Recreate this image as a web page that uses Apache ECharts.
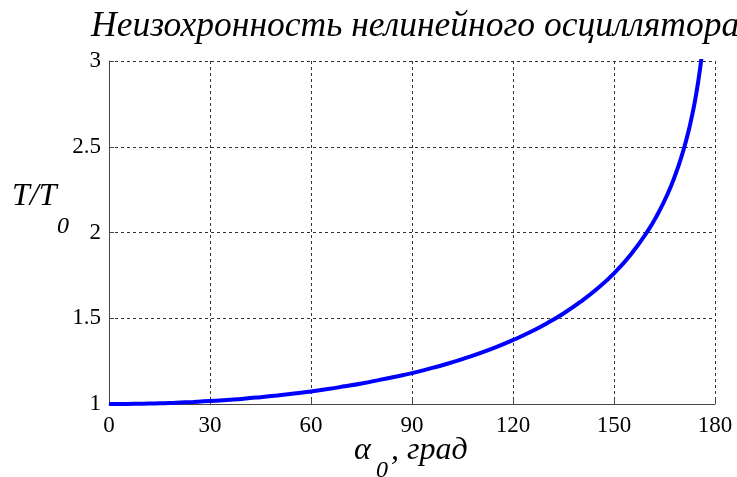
<!DOCTYPE html>
<html>
<head>
<meta charset="utf-8">
<script src="https://cdn.jsdelivr.net/npm/echarts@6/dist/echarts.min.js"></script>
<style>
html,body{margin:0;padding:0;background:#fff;}
#chart{width:737px;height:477px;}
</style>
</head>
<body>
<div id="chart"></div>
<script>
// amplitude, degrees
const alphaDeg = [0,5,10,15,20,25,30,35,40,45,50,55,60,65,70,75,80,85,90,95,100,105,110,115,120,125,130,135,140,145,150,155,160,163,166,168,170,172,173,174,175,176];
// period ratio T/T0
const periodRatio = [1.000,1.000,1.002,1.004,1.008,1.012,1.017,1.024,1.031,1.040,1.050,1.061,1.073,1.087,1.103,1.120,1.139,1.159,1.180,1.205,1.232,1.262,1.295,1.332,1.373,1.418,1.470,1.528,1.595,1.672,1.762,1.872,2.008,2.108,2.228,2.325,2.439,2.580,2.665,2.762,2.878,3.019];
const xTicks = [0,30,60,90,120,150,180];
const yTicks = [1,1.5,2,2.5,3];
const titleText = 'Неизохронность нелинейного осциллятора';
const xName = ['α','0',', град'];
const yName = ['T/T','0'];

const serif = '"Liberation Serif","Times New Roman",serif';
const it = (size)=>({fontFamily:serif,fontStyle:'italic',fontSize:size,fill:'#000'});
const chart = echarts.init(document.getElementById('chart'));
chart.setOption({
  animation:false,
  backgroundColor:'#fff',
  title:{
    text:titleText,
    left:86, top:4,
    textStyle:{fontFamily:serif,fontStyle:'italic',fontWeight:'normal',fontSize:35.5,color:'#000'}
  },
  grid:{left:109,top:61,width:606,height:343,containLabel:false,outerBoundsMode:'none'},
  xAxis:{
    type:'value',min:xTicks[0],max:xTicks[xTicks.length-1],interval:30,
    axisLine:{show:true,lineStyle:{color:'#444',width:1}},
    axisTick:{show:true,inside:true,length:5,lineStyle:{color:'#444'}},
    axisLabel:{fontFamily:serif,fontSize:23,color:'#000',margin:10},
    splitLine:{show:true,lineStyle:{color:'#333',type:[3,3],width:1}}
  },
  yAxis:{
    type:'value',min:yTicks[0],max:yTicks[yTicks.length-1],interval:0.5,
    axisLine:{show:true,lineStyle:{color:'#444',width:1}},
    axisTick:{show:true,inside:true,length:5,lineStyle:{color:'#444'}},
    axisLabel:{fontFamily:serif,fontSize:23,color:'#000',margin:8},
    splitLine:{show:true,lineStyle:{color:'#333',type:[3,3],width:1}}
  },
  graphic:[
    {type:'text',x:12,y:197,style:Object.assign(it(32),{text:yName[0],verticalAlign:'middle'})},
    {type:'text',x:57,y:227,style:Object.assign(it(24),{text:yName[1],verticalAlign:'middle'})},
    {type:'text',x:354,y:451,style:Object.assign(it(32),{text:xName[0],verticalAlign:'middle'})},
    {type:'text',x:376,y:471,style:Object.assign(it(24),{text:xName[1],verticalAlign:'middle'})},
    {type:'text',x:391,y:451,style:Object.assign(it(32),{text:xName[2],verticalAlign:'middle'})}
  ],
  series:[{
    type:'line',
    data:alphaDeg.map((a,i)=>[a,periodRatio[i]]),
    showSymbol:false,smooth:true,clip:true,
    lineStyle:{color:'#0000ff',width:4}
  }]
});
</script>
</body>
</html>
